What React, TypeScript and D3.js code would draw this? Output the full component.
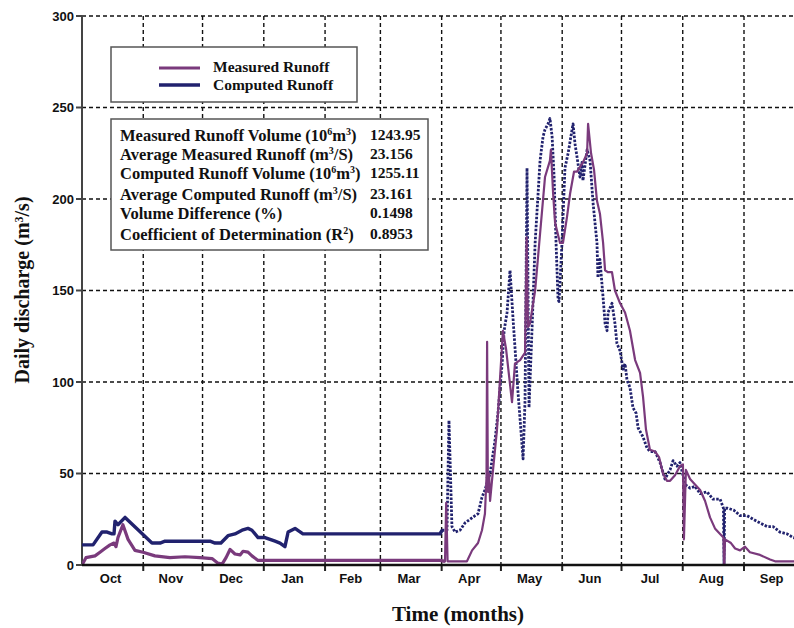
import React from "react";
import * as d3 from "d3";

// ---- data (day 0 = 1 Oct) ----
const monthNames = ["Oct", "Nov", "Dec", "Jan", "Feb", "Mar", "Apr", "May", "Jun", "Jul", "Aug", "Sep"];
const monthStarts = [0, 31, 61, 92, 123, 151, 182, 212, 243, 273, 304, 335, 365];
const yTicks = [0, 50, 100, 150, 200, 250, 300];

const measuredDays = [
  0, 2, 6.6, 9.1, 11.6, 14.2, 16.2, 17.2, 18.2, 20.7, 23.3, 26.8, 30.9, 36.9, 44.5, 52.1, 59.7, 65.8,
  68.8, 70.9, 72.9, 74.9, 77.4, 80, 81.5, 84, 86, 89.1, 181.2, 183.7, 184.3, 185, 194.8, 197.4, 200.4,
  202.4, 203.9, 204.7, 205, 205.4, 206, 206.5, 208, 210, 211.5, 213, 214.6, 217.6, 219.1, 221.7, 224.2,
  225, 225.7, 226.7, 229.3, 231.8, 234.3, 236.8, 237.3, 238.4, 239.4, 241.9, 243.4, 245.4, 247, 249,
  250.5, 253.5, 255.6, 256.1, 257.6, 259.1, 260.6, 262.1, 263.7, 264.7, 266.2, 268.2, 269.7, 272.3,
  274.8, 277.3, 279.9, 282.4, 283.9, 285.4, 287.4, 290, 292, 294, 296, 297.6, 300.1, 302.6, 304.1,
  304.6, 305.6, 307.7, 310.2, 312.8, 315.3, 317.8, 320.3, 322.9, 324.6, 325, 325.4, 328.4, 330.5, 333,
  335.5, 338, 343.1, 348.2, 350.7, 365,
];
const measuredQ = [
  0, 4, 5, 7, 9, 11, 12, 10, 15, 22, 14, 8, 7, 5, 4, 4.5, 4, 3.5,
  1, 0.5, 4, 8.5, 6, 5.5, 7.5, 7, 5, 2.5, 2.5, 2, 34, 2, 2, 8, 12,
  19, 28, 48, 122, 40, 50, 35, 52, 74, 101, 128, 118, 89, 110, 112, 116,
  179, 130, 132, 150, 181, 212, 221, 227, 203, 187, 176, 176, 190, 203, 215,
  215, 220, 225, 241, 225, 216, 199, 192, 176, 161, 160, 160, 150, 143,
  138, 128, 112, 105, 92, 74, 63, 62, 59, 50, 46, 46, 49, 54, 55,
  14, 52, 47, 44, 41, 35, 26, 20, 17, 15, 0, 14, 12, 9, 8,
  10, 7, 5.5, 3, 2, 2,
];

const computedDays = [
  0, 5.6, 10.1, 12.7, 15.2, 16.2, 16.7, 18.2, 21.8, 35.4, 39.5, 42, 64.8, 67.3, 70.3, 73.9, 77.4, 81,
  84, 86, 89.1, 92.6, 97.7, 100.2, 102.7, 104.3, 107.8, 111.8, 181.2, 182.2, 184.7, 185.7, 187.2,
  188.8, 191.3, 193.8, 196.4, 198.9, 200.4, 202.4, 203.9, 206.5, 209, 210.5, 211.5, 212.6, 213.6,
  215.1, 216.6, 218.1, 220.6, 223.2, 224.2, 225.2, 226.2, 227.7, 229.3, 230.8, 231.8, 233.3, 234.3,
  235.8, 236.8, 237.9, 238.9, 239.9, 240.9, 241.4, 242.9, 244.4, 246, 248, 248.5, 249.5, 250.5, 252,
  253, 253.5, 255.6, 257.1, 258.6, 260.6, 261.1, 262.1, 263.7, 264.7, 265.7, 266.2, 268.2, 269.7,
  270.7, 272.3, 273.8, 274.8, 275.8, 277.3, 278.8, 280.4, 281.4, 283.9, 285.9, 287.4, 290, 292.5,
  295, 297.6, 299.1, 301.1, 302.6, 305.2, 307.7, 310.2, 312.8, 316.3, 319.3, 322.9, 324.6, 324.9,
  325.2, 326.8, 329.8, 333, 336.5, 339.6, 343.1, 346.7, 349.7, 353.2, 356.8, 359.8, 365,
];
const computedQ = [
  11, 11, 18, 18, 17, 17, 24, 22, 26, 12, 12, 13, 13, 12, 12, 16, 17, 19,
  20, 19, 15, 15, 13, 12, 10, 18, 20, 17, 17, 19, 19, 79, 21,
  18, 19, 23, 25, 27, 28, 37, 41, 50, 68, 83, 96, 110, 128,
  138, 161, 135, 95, 58, 90, 217, 86, 128, 176, 203, 221, 234, 238,
  241, 244, 234, 212, 176, 145, 144, 176, 217, 225, 238, 241, 230, 223, 212,
  220, 210, 227, 221, 198, 176, 157, 167, 146, 132, 128, 138, 143, 132,
  121, 117, 107, 110, 101, 97, 86, 83, 75, 70, 64, 62, 62, 56,
  47, 52, 57, 54, 56, 44, 42, 43, 39, 40, 36, 36, 31, 0,
  31, 31, 30, 27, 27, 25, 23, 21, 21, 18, 17, 15, 14,
];

const statLabels = [
  ["Measured Runoff Volume (10", "6", "m", "3", ")"],
  ["Average Measured Runoff (m", "3", "/S)"],
  ["Computed Runoff Volume (10", "6", "m", "3", ")"],
  ["Average Computed Runoff (m", "3", "/S)"],
  ["Volume Difference (%)"],
  ["Coefficient of Determination (R", "2", ")"],
];
const statValues = ["1243.95", "23.156", "1255.11", "23.161", "0.1498", "0.8953"];

const W = 794;
const H = 628;
const PURPLE = "#7a3a7c";
const NAVY = "#21226e";
const SERIF = "'Liberation Serif', 'Times New Roman', serif";
const SANS = "'Liberation Sans', Arial, sans-serif";

// odd indexes are superscripts
const SupText: React.FC<{ parts: string[]; sup?: number }> = ({ parts, sup = 10 }) => (
  <>
    {parts.map((p, i) =>
      i % 2 === 1 ? (
        <tspan key={i} dy={-6} fontSize={sup}>
          {p}
        </tspan>
      ) : (
        <tspan key={i} dy={i === 0 ? 0 : 6}>
          {p}
        </tspan>
      ),
    )}
  </>
);

export default function App() {
  const x = d3.scaleLinear().domain([0, 335]).range([82, 744]);
  const y = d3.scaleLinear().domain([0, 300]).range([565, 16]);

  const measured = measuredDays.map((d, i) => [d, measuredQ[i]] as [number, number]);
  const computed = computedDays.map((d, i) => [d, computedQ[i]] as [number, number]);
  const line = d3
    .line<[number, number]>()
    .x((d) => x(d[0]))
    .y((d) => y(d[1]));

  const compLow = computed.filter((d) => d[0] <= 182.2);
  const compHigh = computed.filter((d) => d[0] >= 181.2);
  const measLow = measured.filter((d) => d[0] <= 183.7);
  const measHigh = measured.filter((d) => d[0] >= 181.2);

  const grid = { stroke: "#111", strokeWidth: 1.4, strokeDasharray: "4 3" };

  return (
    <div style={{ position: "absolute", left: 0, top: 0 }}>
      <svg width={W} height={H} style={{ display: "block", background: "#fff" }}>
        <defs>
          <clipPath id="plot">
            <rect x={82} y={10} width={W - 82} height={556} />
          </clipPath>
        </defs>

        {/* grid */}
        {yTicks
          .filter((t) => t > 0)
          .map((t) => (
            <line key={"h" + t} x1={82} x2={W} y1={y(t)} y2={y(t)} {...grid} />
          ))}
        {monthStarts.slice(1, 12).map((m) => (
          <line key={"v" + m} x1={x(m)} x2={x(m)} y1={y(300)} y2={y(0)} {...grid} />
        ))}

        {/* axes */}
        <line x1={82} x2={82} y1={y(300)} y2={y(0)} stroke="#444" strokeWidth={2} />
        {yTicks.map((t) => (
          <g key={"yt" + t}>
            <line x1={76} x2={82} y1={y(t)} y2={y(t)} stroke="#444" strokeWidth={2} />
            <text
              x={74}
              y={y(t)}
              dy="0.35em"
              textAnchor="end"
              fontFamily={SANS}
              fontWeight="bold"
              fontSize={13}
              fill="#111"
            >
              {t}
            </text>
          </g>
        ))}
        {monthStarts.slice(1, 12).map((m) => (
          <line key={"xt" + m} x1={x(m)} x2={x(m)} y1={565} y2={571} stroke="#222" strokeWidth={2} />
        ))}
        {monthNames.map((n, i) => (
          <text
            key={n}
            x={x((monthStarts[i] + monthStarts[i + 1]) / 2) - 2}
            y={583}
            textAnchor="middle"
            fontFamily={SANS}
            fontWeight="bold"
            fontSize={13}
            fill="#111"
          >
            {n}
          </text>
        ))}

        {/* series */}
        <g clipPath="url(#plot)" fill="none" strokeLinejoin="round">
          <path d={line(compLow) || ""} stroke={NAVY} strokeWidth={3.4} />
          <path d={line(compHigh) || ""} stroke={NAVY} strokeWidth={2.8} strokeDasharray="2.5 1.5" />
          <path d={line(measLow) || ""} stroke={PURPLE} strokeWidth={3.2} />
          <path d={line(measHigh) || ""} stroke={PURPLE} strokeWidth={2.2} />
        </g>
        <line x1={82} x2={W} y1={565} y2={565} stroke="#111" strokeWidth={2.5} />

        {/* legend */}
        <rect x={111} y={47} width={246} height={55} fill="#fff" stroke="#555" strokeWidth={1.5} />
        <line x1={159} x2={200} y1={68} y2={68} stroke={PURPLE} strokeWidth={3} />
        <line x1={159} x2={200} y1={85} y2={85} stroke={NAVY} strokeWidth={3.5} />
        <text x={213} y={72} fontFamily={SERIF} fontWeight="bold" fontSize={15.5} fill="#111">
          Measured Runoff
        </text>
        <text x={213} y={90} fontFamily={SERIF} fontWeight="bold" fontSize={15.5} fill="#111">
          Computed Runoff
        </text>

        {/* statistics box */}
        <rect x={111} y={119} width={317} height={131} fill="#fff" stroke="#555" strokeWidth={1.5} />
        {statLabels.map((parts, i) => {
          const by = [141, 160, 179, 200, 219, 240][i];
          return (
            <g key={i}>
              <text x={120} y={by} fontFamily={SERIF} fontWeight="bold" fontSize={16.5} fill="#111">
                <SupText parts={parts} />
              </text>
              <text x={370} y={by - 1} fontFamily={SERIF} fontWeight="bold" fontSize={15.5} fill="#111">
                {statValues[i]}
              </text>
            </g>
          );
        })}

        {/* axis titles */}
        <text
          transform={`translate(29,${290}) rotate(-90)`}
          textAnchor="middle"
          fontFamily={SERIF}
          fontWeight="bold"
          fontSize={20}
          fill="#111"
        >
          <SupText parts={["Daily discharge (m", "3", "/s)"]} sup={12} />
        </text>
        <text x={458} y={621} textAnchor="middle" fontFamily={SERIF} fontWeight="bold" fontSize={21} fill="#111">
          Time (months)
        </text>
      </svg>
    </div>
  );
}
